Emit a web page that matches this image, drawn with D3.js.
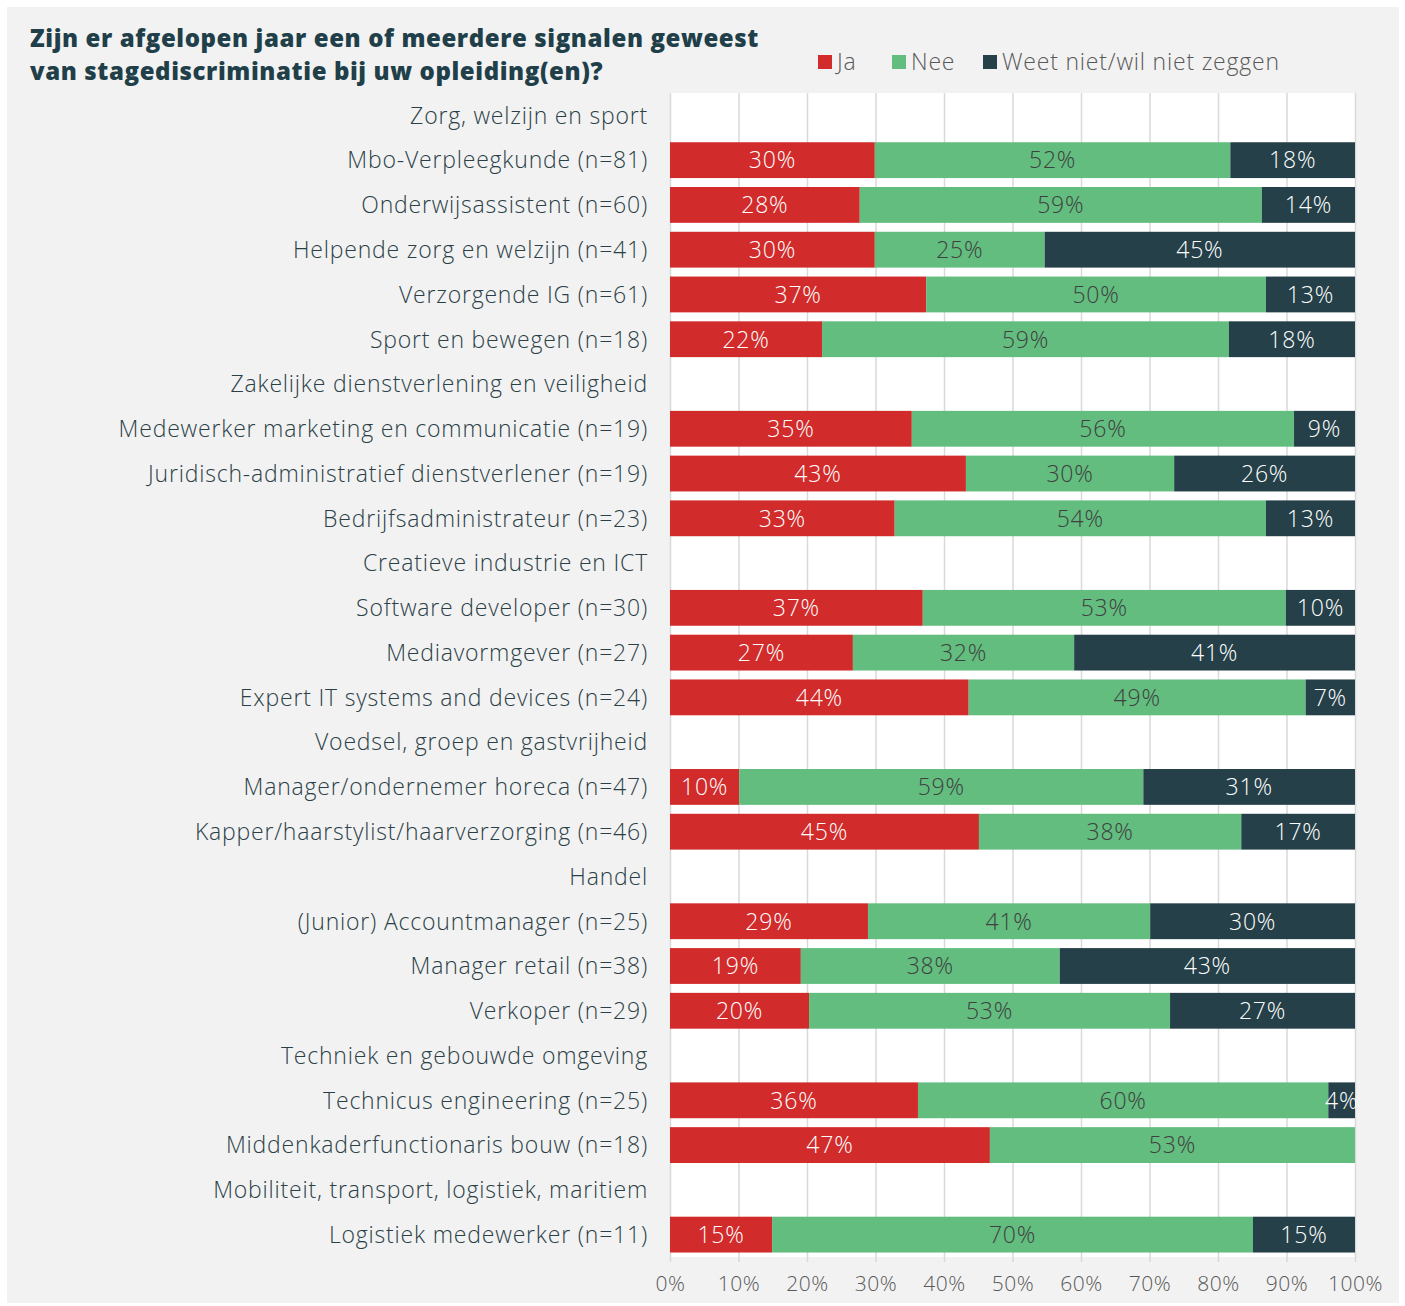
<!DOCTYPE html>
<html>
<head>
<meta charset="utf-8">
<script src="https://cdn.jsdelivr.net/npm/d3@7"></script>
<style>
  body { margin: 0; background: #fff; }
  svg { display: block; font-family: "Open Sans", Lato, sans-serif; }
</style>
</head>
<body>
<div id="chart"></div>
<script>
// Row labels, top to bottom; category headers have no values
const rowLabels = [
  'Zorg, welzijn en sport',
  'Mbo-Verpleegkunde (n=81)',
  'Onderwijsassistent (n=60)',
  'Helpende zorg en welzijn (n=41)',
  'Verzorgende IG (n=61)',
  'Sport en bewegen (n=18)',
  'Zakelijke dienstverlening en veiligheid',
  'Medewerker marketing en communicatie (n=19)',
  'Juridisch-administratief dienstverlener (n=19)',
  'Bedrijfsadministrateur (n=23)',
  'Creatieve industrie en ICT',
  'Software developer (n=30)',
  'Mediavormgever (n=27)',
  'Expert IT systems and devices (n=24)',
  'Voedsel, groep en gastvrijheid',
  'Manager/ondernemer horeca (n=47)',
  'Kapper/haarstylist/haarverzorging (n=46)',
  'Handel',
  '(Junior) Accountmanager (n=25)',
  'Manager retail (n=38)',
  'Verkoper (n=29)',
  'Techniek en gebouwde omgeving',
  'Technicus engineering (n=25)',
  'Middenkaderfunctionaris bouw (n=18)',
  'Mobiliteit, transport, logistiek, maritiem',
  'Logistiek medewerker (n=11)'
];
// percentages per row (null = category header)
const ja = [null, 29.9, 27.7, 29.9, 37.4, 22.2, null, 35.3, 43.2, 32.8, null, 36.9, 26.7, 43.6, null, 10.1, 45.1, null, 28.9, 19.1, 20.3, null, 36.2, 46.7, null, 14.9];
const nee = [null, 51.9, 58.7, 24.8, 49.6, 59.4, null, 55.8, 30.4, 54.2, null, 53.0, 32.3, 49.2, null, 59.0, 38.3, null, 41.2, 37.8, 52.7, null, 59.9, 53.3, null, 70.2];
const weetNiet = [null, 18.2, 13.6, 45.3, 13.0, 18.4, null, 8.9, 26.4, 13.0, null, 10.1, 41.0, 7.2, null, 30.9, 16.6, null, 29.9, 43.1, 27.0, null, 3.9, 0, null, 14.9];

const seriesNames = ['Ja', 'Nee', 'Weet niet/wil niet zeggen'];
const xTicks = [0, 10, 20, 30, 40, 50, 60, 70, 80, 90, 100];

const colors = { 'Ja': '#d12b2b', 'Nee': '#62bd7f', 'Weet niet/wil niet zeggen': '#254048' };
const labelColors = { 'Ja': '#ffffff', 'Nee': '#404040', 'Weet niet/wil niet zeggen': '#ffffff' };

const width = 1405, height = 1306;
const margin = { top: 93, bottom: 49, left: 670, right: 50 };

const svg = d3.select('#chart').append('svg')
  .attr('width', width)
  .attr('height', height);

svg.append('rect')
  .attr('x', 7).attr('y', 7)
  .attr('width', 1392).attr('height', 1296)
  .attr('fill', '#f2f2f2');

// title
const title = svg.append('text')
  .attr('x', 30)
  .attr('fill', '#213f49')
  .style('font-size', '24px')
  .style('font-weight', 800)
  .style('letter-spacing', '0.6px');
title.append('tspan').attr('x', 30).attr('y', 47).text('Zijn er afgelopen jaar een of meerdere signalen geweest');
title.append('tspan').attr('x', 30).attr('y', 80).text('van stagediscriminatie bij uw opleiding(en)?');

const rows = rowLabels.map((label, i) => ({
  label: label,
  header: ja[i] === null,
  'Ja': ja[i], 'Nee': nee[i], 'Weet niet/wil niet zeggen': weetNiet[i]
}));

const x = d3.scaleLinear().domain([0, 100]).range([margin.left, width - margin.right]);
const y = d3.scaleBand().domain(d3.range(rows.length)).range([margin.top, height - margin.bottom]).paddingInner(0.2).paddingOuter(0.1);

// plot background
svg.append('rect')
  .attr('x', x(0)).attr('y', margin.top)
  .attr('width', x(100) - x(0)).attr('height', height - margin.bottom - margin.top)
  .attr('fill', '#ffffff');

// gridlines + axis
const xAxis = d3.axisBottom(x)
  .tickValues(xTicks)
  .tickSize(-(height - margin.bottom - margin.top) - 5)
  .tickPadding(14)
  .tickFormat(d => d + '%');

const axisG = svg.append('g')
  .attr('transform', 'translate(0,' + (height - margin.bottom + 5) + ')')
  .call(xAxis);
axisG.select('.domain').remove();
axisG.selectAll('.tick line').attr('stroke', '#d9d9d9').attr('stroke-width', 1.5);
axisG.selectAll('.tick text')
  .attr('fill', '#595959')
  .style('font-size', '21px')
  .style('font-weight', 300)
  .style('letter-spacing', '0.5px')
  .style('font-family', '"Open Sans", sans-serif');

// stacked bars
const stacked = d3.stack().keys(seriesNames)(rows.map(r => r.header ? { 'Ja': 0, 'Nee': 0, 'Weet niet/wil niet zeggen': 0 } : r));

const layers = svg.append('g').attr('class', 'bars')
  .selectAll('g.layer')
  .data(stacked)
  .join('g')
  .attr('class', 'layer')
  .attr('fill', d => colors[d.key]);

layers.selectAll('rect')
  .data(d => d.map((s, i) => ({ s: s, i: i, key: d.key })).filter(e => !rows[e.i].header && e.s[1] - e.s[0] > 0))
  .join('rect')
  .attr('x', d => x(d.s[0]))
  .attr('y', d => y(d.i))
  .attr('width', d => x(d.s[1]) - x(d.s[0]))
  .attr('height', y.bandwidth());

layers.selectAll('text')
  .data(d => d.map((s, i) => ({ s: s, i: i, key: d.key })).filter(e => !rows[e.i].header && e.s[1] - e.s[0] > 0))
  .join('text')
  .attr('x', d => (x(d.s[0]) + x(d.s[1])) / 2)
  .attr('y', d => y(d.i) + y.bandwidth() / 2)
  .attr('dy', '0.36em')
  .attr('text-anchor', 'middle')
  .attr('fill', d => labelColors[d.key])
  .style('font-size', '23px')
  .style('font-weight', 300)
  .style('letter-spacing', '0.8px')
  .text(d => d3.format('.0f')(d.s[1] - d.s[0]) + '%');

// row labels
svg.append('g').attr('class', 'row-labels')
  .selectAll('text')
  .data(rows)
  .join('text')
  .attr('x', 648)
  .attr('y', (d, i) => y(i) + y.bandwidth() / 2)
  .attr('dy', '0.36em')
  .attr('text-anchor', 'end')
  .attr('fill', '#2b3f47')
  .style('font-size', '23px')
  .style('font-weight', 300)
  .style('letter-spacing', '0.8px')
  .text(d => d.label);

// legend
const legendPos = [818, 892, 983];
const legend = svg.append('g').attr('class', 'legend')
  .selectAll('g')
  .data(seriesNames)
  .join('g')
  .attr('transform', (d, i) => 'translate(' + [legendPos[i], 55] + ')');
legend.append('rect')
  .attr('width', 14).attr('height', 14)
  .attr('fill', d => colors[d]);
legend.append('text')
  .attr('x', 19).attr('y', 7).attr('dy', '0.36em')
  .attr('fill', '#595959')
  .style('font-size', '23px')
  .style('font-weight', 300)
  .style('letter-spacing', '0.8px')
  .text(d => d);
</script>
</body>
</html>
